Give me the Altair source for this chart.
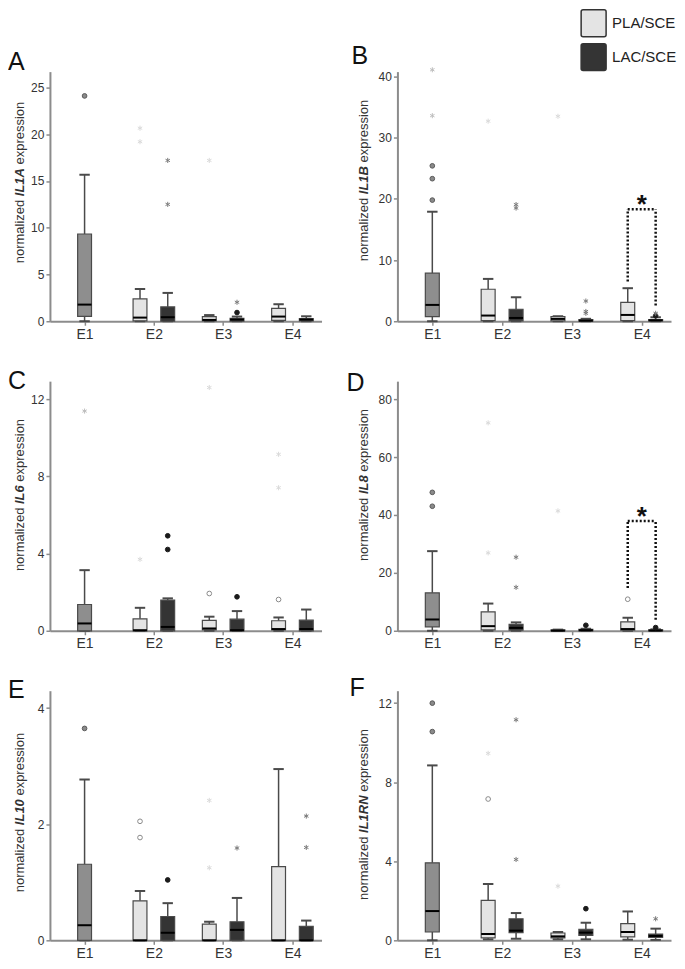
import json
import altair as alt
import pandas as pd

FONT = "Liberation Sans"

# ---------------------------------------------------------------- data
CATEGORIES = ["E1", "E2", "E3", "E4"]
GROUPS = ["E1", "PLA", "LAC"]
LEGEND_LABELS = ["PLA/SCE", "LAC/SCE"]

# box statistics: category, group, lower whisker, q1, median, q3, upper whisker
A_boxes = [
    ("E1", "E1", 0.0, 0.53, 1.78, 9.33, 15.67),
    ("E2", "PLA", 0.0, 0.05, 0.39, 2.39, 3.45),
    ("E2", "LAC", 0.0, 0.0, 0.43, 1.53, 3.03),
    ("E3", "PLA", 0.0, 0.05, 0.14, 0.5, 0.66),
    ("E3", "LAC", 0.0, 0.02, 0.18, 0.3, 0.5),
    ("E4", "PLA", 0.0, 0.1, 0.5, 1.38, 1.82),
    ("E4", "LAC", 0.0, 0.05, 0.18, 0.28, 0.53),
]
A_circles = [("E1", "E1", 24.1), ("E3", "LAC", 0.93)]
A_stars = [("E2", "PLA", 20.65), ("E2", "PLA", 19.2), ("E2", "LAC", 17.2),
           ("E2", "LAC", 12.5), ("E3", "PLA", 17.2), ("E3", "LAC", 2.03)]

B_boxes = [
    ("E1", "E1", 0.0, 0.76, 2.67, 7.85, 17.9),
    ("E2", "PLA", 0.0, 0.1, 0.93, 5.23, 6.92),
    ("E2", "LAC", 0.0, 0.05, 0.54, 1.96, 3.92),
    ("E3", "PLA", 0.0, 0.05, 0.38, 0.76, 0.82),
    ("E3", "LAC", 0.0, 0.0, 0.1, 0.27, 0.4),
    ("E4", "PLA", 0.0, 0.1, 1.03, 3.1, 5.4),
    ("E4", "LAC", 0.0, 0.05, 0.15, 0.27, 0.65),
]
B_circles = [("E1", "E1", 19.8), ("E1", "E1", 23.3), ("E1", "E1", 25.4),
             ("E4", "LAC", 0.9)]
B_stars = [("E1", "E1", 33.6), ("E1", "E1", 41.1), ("E2", "PLA", 32.7),
           ("E2", "LAC", 19.07), ("E2", "LAC", 18.5), ("E3", "PLA", 33.5),
           ("E3", "LAC", 3.3), ("E3", "LAC", 1.6), ("E3", "LAC", 1.3),
           ("E4", "LAC", 1.3)]
B_bracket = [("E4", 6.5, 18.3, 2.56)]

C_boxes = [
    ("E1", "E1", 0.0, 0.0, 0.38, 1.36, 3.14),
    ("E2", "PLA", 0.0, 0.0, 0.03, 0.62, 1.19),
    ("E2", "LAC", 0.0, 0.0, 0.2, 1.59, 1.68),
    ("E3", "PLA", 0.0, 0.05, 0.12, 0.54, 0.73),
    ("E3", "LAC", 0.0, 0.0, 0.03, 0.6, 1.02),
    ("E4", "PLA", 0.0, 0.05, 0.09, 0.52, 0.69),
    ("E4", "LAC", 0.0, 0.0, 0.09, 0.55, 1.1),
]
C_circles = [("E2", "LAC", 4.92), ("E2", "LAC", 4.21), ("E3", "PLA", 1.93),
             ("E3", "LAC", 1.76), ("E4", "PLA", 1.62)]
C_stars = [("E1", "E1", 11.38), ("E2", "PLA", 3.7), ("E3", "PLA", 12.6),
           ("E4", "PLA", 9.14), ("E4", "PLA", 7.41)]

D_boxes = [
    ("E1", "E1", 0.0, 1.38, 3.9, 13.1, 27.5),
    ("E2", "PLA", 0.0, 0.3, 1.6, 6.56, 9.4),
    ("E2", "LAC", 0.0, 0.2, 1.0, 2.2, 2.9),
    ("E3", "PLA", 0.0, 0.0, 0.05, 0.3, 0.4),
    ("E3", "LAC", 0.0, 0.0, 0.2, 0.5, 0.7),
    ("E4", "PLA", 0.0, 0.2, 0.6, 3.1, 4.5),
    ("E4", "LAC", 0.0, 0.0, 0.1, 0.3, 0.5),
]
D_circles = [("E1", "E1", 47.8), ("E1", "E1", 43.0), ("E3", "LAC", 1.9),
             ("E4", "PLA", 10.9), ("E4", "LAC", 1.1)]
D_stars = [("E2", "PLA", 71.8), ("E2", "PLA", 26.9), ("E2", "LAC", 25.4),
           ("E2", "LAC", 15.0), ("E3", "PLA", 41.4)]
D_bracket = [("E4", 14.8, 37.9, 3.8)]

E_boxes = [
    ("E1", "E1", 0.0, 0.0, 0.26, 1.31, 2.77),
    ("E2", "PLA", 0.0, 0.0, 0.0, 0.68, 0.85),
    ("E2", "LAC", 0.0, 0.0, 0.13, 0.41, 0.64),
    ("E3", "PLA", 0.0, 0.0, 0.0, 0.28, 0.32),
    ("E3", "LAC", 0.0, 0.0, 0.18, 0.32, 0.73),
    ("E4", "PLA", 0.0, 0.0, 0.0, 1.27, 2.95),
    ("E4", "LAC", 0.0, 0.0, 0.0, 0.24, 0.34),
]
E_circles = [("E1", "E1", 3.65), ("E2", "PLA", 2.05), ("E2", "PLA", 1.77),
             ("E2", "LAC", 1.04)]
E_stars = [("E3", "PLA", 2.41), ("E3", "PLA", 1.25), ("E3", "LAC", 1.59),
           ("E4", "LAC", 2.14), ("E4", "LAC", 1.6)]

F_boxes = [
    ("E1", "E1", 0.0, 0.42, 1.48, 3.92, 8.85),
    ("E2", "PLA", 0.05, 0.12, 0.32, 2.02, 2.85),
    ("E2", "LAC", 0.08, 0.39, 0.49, 1.09, 1.38),
    ("E3", "PLA", 0.05, 0.12, 0.2, 0.37, 0.42),
    ("E3", "LAC", 0.05, 0.25, 0.39, 0.56, 0.89),
    ("E4", "PLA", 0.03, 0.17, 0.42, 0.84, 1.46),
    ("E4", "LAC", 0.02, 0.15, 0.22, 0.32, 0.59),
]
F_circles = [("E1", "E1", 12.0), ("E1", "E1", 10.56), ("E2", "PLA", 7.15),
             ("E3", "LAC", 1.6)]
F_stars = [("E2", "PLA", 9.46), ("E2", "LAC", 11.16), ("E2", "LAC", 4.09),
           ("E3", "PLA", 2.74), ("E4", "LAC", 1.09)]

A_ticks = [0, 5, 10, 15, 20, 25]
B_ticks = [0, 10, 20, 30, 40]
C_ticks = [0, 4, 8, 12]
D_ticks = [0, 20, 40, 60, 80]
E_ticks = [0, 2, 4]
F_ticks = [0, 4, 8, 12]

# ---------------------------------------------------------------- styles
BOX_FILL = ["#8e8e8e", "#e4e4e4", "#343434"]
CIRCLE_FILL = ["#8a8a8a", "#ffffff", "#1a1a1a"]
CIRCLE_STROKE = ["#5a5a5a", "#8a8a8a", "#1a1a1a"]
STAR_STROKE = ["#bdbdbd", "#dadada", "#7a7a7a"]
AXIS_COLOR = "#8c8c8c"
LINE_COLOR = "#4a4a4a"
STAR_PATH = "M0,-1L0,1M-0.87,-0.5L0.87,0.5M-0.87,0.5L0.87,-0.5"

H = 250
POS_EXPR = ("indexof(%s, datum.cat) + 1 + (datum.grp == 'PLA' ? -0.2 : "
            "datum.grp == 'LAC' ? 0.2 : 0)") % json.dumps(CATEGORIES)
CAT_EXPR = "indexof(%s, datum.cat) + 1" % json.dumps(CATEGORIES)

# Arial-metric advance widths (per 1000 em)
REG_W = {"n": 556, "o": 556, "r": 333, "m": 833, "a": 556, "l": 222, "i": 222,
         "z": 500, "e": 556, "d": 556, "x": 500, "p": 556, "s": 500, " ": 278}
BOLD_W = {"I": 278, "L": 611, "A": 722, "B": 722, "R": 722, "N": 722,
          "0": 556, "1": 556, "6": 556, "8": 556}


def text_w(s, table, fs):
    return sum(table.get(c, 556) for c in s) * fs / 1000.0


def build_panel(p):
    W = p["width"]
    xscale = alt.Scale(domain=[0.5, 4.42], nice=False, zero=False)
    xaxis = alt.Axis(values=[1, 2, 3, 4], labelExpr="'E' + datum.value", title=None,
                     grid=False, domainColor=AXIS_COLOR, domainWidth=2,
                     tickColor=AXIS_COLOR, tickWidth=1.5, tickSize=4,
                     labelFont=FONT, labelFontSize=14, labelColor="#333333",
                     labelPadding=2, labelFlush=False)
    yscale = alt.Scale(domain=[0, p["ymax"]], nice=False, zero=True)
    yaxis = alt.Axis(values=p["ticks"], title=None, grid=False,
                     domainColor=AXIS_COLOR, domainWidth=2,
                     tickColor=AXIS_COLOR, tickWidth=1.5, tickSize=4,
                     labelFont=FONT, labelFontSize=12, labelColor="#333333",
                     labelPadding=2)

    def X(f):
        return alt.X(f + ":Q", scale=xscale, axis=xaxis)

    def Y(f):
        return alt.Y(f + ":Q", scale=yscale, axis=yaxis)

    boxes = pd.DataFrame(p["boxes"], columns=["cat", "grp", "lo", "q1", "med", "q3", "hi"])
    circles = pd.DataFrame(p["circles"], columns=["cat", "grp", "value"])
    stars = pd.DataFrame(p["stars"], columns=["cat", "grp", "value"])

    base = alt.Chart(boxes).transform_calculate(
        pos=POS_EXPR,
    ).transform_calculate(
        bl="datum.pos - 0.1", br="datum.pos + 0.1",
        cl="datum.pos - 0.075", cr="datum.pos + 0.075",
    )
    layers = [
        base.mark_rule(color=LINE_COLOR, strokeWidth=1.5).encode(
            x=X("pos"), y=Y("q3"), y2="hi"),
        base.mark_rule(color=LINE_COLOR, strokeWidth=1.5).encode(
            x=X("pos"), y=Y("lo"), y2="q1"),
        base.mark_rule(color=LINE_COLOR, strokeWidth=2).encode(
            x=X("cl"), x2="cr", y=Y("hi")),
        base.mark_rule(color=LINE_COLOR, strokeWidth=2).encode(
            x=X("cl"), x2="cr", y=Y("lo")),
        base.mark_rect(stroke=LINE_COLOR, strokeWidth=1.2).encode(
            x=X("bl"), x2="br", y=Y("q1"), y2="q3",
            fill=alt.Fill("grp:N", scale=alt.Scale(domain=GROUPS, range=BOX_FILL),
                          legend=None)),
        base.mark_rule(color="#000000", strokeWidth=2).encode(
            x=X("bl"), x2="br", y=Y("med")),
        alt.Chart(circles).transform_calculate(pos=POS_EXPR).mark_point(
            shape="circle", size=22, strokeWidth=1, opacity=1).encode(
            x=X("pos"), y=Y("value"),
            fill=alt.Fill("grp:N", scale=alt.Scale(domain=GROUPS, range=CIRCLE_FILL),
                          legend=None),
            stroke=alt.Stroke("grp:N", scale=alt.Scale(domain=GROUPS, range=CIRCLE_STROKE),
                              legend=None)),
        alt.Chart(stars).transform_calculate(pos=POS_EXPR).mark_point(
            shape=STAR_PATH, size=26, strokeWidth=1, filled=False, opacity=1).encode(
            x=X("pos"), y=Y("value"),
            stroke=alt.Stroke("grp:N", scale=alt.Scale(domain=GROUPS, range=STAR_STROKE),
                              legend=None)),
    ]

    if p.get("bracket"):
        br = pd.DataFrame(p["bracket"], columns=["cat", "left_from", "top", "right_from"])
        bb = alt.Chart(br).transform_calculate(pc=CAT_EXPR).transform_calculate(
            pl="datum.pc - 0.2", pr="datum.pc + 0.2")
        dash = dict(color="#111111", strokeWidth=2.5, strokeDash=[2, 2])
        layers += [
            bb.mark_rule(**dash).encode(x=X("pl"), y=Y("left_from"), y2="top"),
            bb.mark_rule(**dash).encode(x=X("pr"), y=Y("right_from"), y2="top"),
            bb.mark_rule(**dash).encode(x=X("pl"), x2="pr", y=Y("top")),
            bb.mark_text(text="*", font=FONT, fontSize=26, fontWeight="bold",
                         align="center", baseline="alphabetic", dy=4,
                         color="#111111").encode(x=X("pc"), y=Y("top")),
        ]

    ann = alt.Chart(pd.DataFrame({"k": [0]}))
    # panel letter
    layers.append(ann.mark_text(text=p["letter"], font=FONT, fontSize=25, align="left",
                                baseline="alphabetic", color="#111111").encode(
        x=alt.value(p["lx"]), y=alt.value(p["ly"])))

    # y title with bold italic gene name
    fs = 13
    sp = text_w(" ", REG_W, fs)
    wn = text_w("normalized", REG_W, fs)
    wg = text_w(p["gene"], BOLD_W, fs)
    we = text_w("expression", REG_W, fs)
    total = wn + sp + wg + sp + we
    bottom = p["tc"] + total / 2
    tstyle = dict(font=FONT, fontSize=fs, angle=270, align="left", baseline="middle",
                  color="#333333")
    layers += [
        ann.mark_text(text="normalized", **tstyle).encode(
            x=alt.value(p["tx"]), y=alt.value(bottom)),
        ann.mark_text(text=p["gene"], fontWeight="bold", fontStyle="italic", **tstyle).encode(
            x=alt.value(p["tx"]), y=alt.value(bottom - wn - sp)),
        ann.mark_text(text="expression", **tstyle).encode(
            x=alt.value(p["tx"]), y=alt.value(bottom - wn - sp - wg - sp)),
    ]

    if p.get("legend"):
        for i, lab in enumerate(LEGEND_LABELS):
            y0 = -62 + i * 34
            layers += [
                ann.mark_rect(fill=BOX_FILL[i + 1], stroke="#333333", strokeWidth=1.5,
                              cornerRadius=2).encode(
                    x=alt.value(184), x2=alt.value(209), y=alt.value(y0),
                    y2=alt.value(y0 + 27)),
                ann.mark_text(text=lab, font=FONT, fontSize=15, align="left",
                              baseline="middle", color="#222222").encode(
                    x=alt.value(215), y=alt.value(y0 + 13.5)),
            ]

    return alt.layer(*layers).resolve_scale(
        fill="independent", stroke="independent").properties(width=W, height=H)


panels = [
    dict(letter="A", gene="IL1A", boxes=A_boxes, circles=A_circles, stars=A_stars,
         ticks=A_ticks, ymax=26.7, width=272, lx=-42, ly=-2, tx=-30, tc=111),
    dict(letter="B", gene="IL1B", boxes=B_boxes, circles=B_circles, stars=B_stars,
         ticks=B_ticks, ymax=40.8, width=274, lx=-46, ly=-8, tx=-33, tc=109,
         bracket=B_bracket, legend=True),
    dict(letter="C", gene="IL6", boxes=C_boxes, circles=C_circles, stars=C_stars,
         ticks=C_ticks, ymax=12.93, width=272, lx=-42, ly=8, tx=-30, tc=114),
    dict(letter="D", gene="IL8", boxes=D_boxes, circles=D_circles, stars=D_stars,
         ticks=D_ticks, ymax=86.2, width=274, lx=-51, ly=10, tx=-33, tc=104),
    dict(letter="E", gene="IL10", boxes=E_boxes, circles=E_circles, stars=E_stars,
         ticks=E_ticks, ymax=4.3, width=272, lx=-42, ly=7, tx=-30, tc=122),
    dict(letter="F", gene="IL1RN", boxes=F_boxes, circles=F_circles, stars=F_stars,
         ticks=F_ticks, ymax=12.63, width=274, lx=-48, ly=5, tx=-33, tc=124),
]
panels[3]["bracket"] = D_bracket

chart = alt.concat(
    *[build_panel(p) for p in panels],
    columns=2,
    spacing={"row": 60, "column": 76},
    bounds="flush",
    padding=0,
).configure_view(stroke=None)

chart.save("out.html", embed_options={"renderer": "svg", "actions": False})
